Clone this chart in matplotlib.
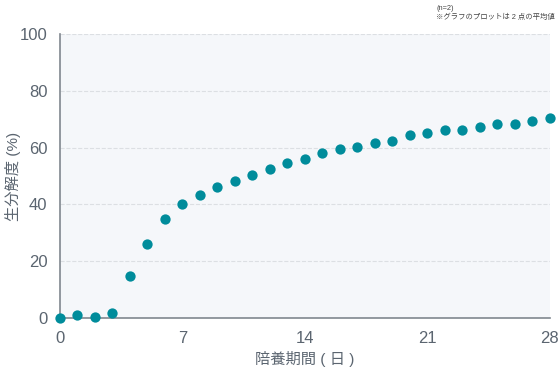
import matplotlib
matplotlib.use('Agg')
import matplotlib.pyplot as plt

plt.rcParams['font.family'] = ['Liberation Sans', 'Noto Sans CJK JP', 'DejaVu Sans']

days = list(range(29))
degradation = [0.0, 1.0, 0.2, 1.8, 14.9, 26.0, 35.0, 40.0, 43.3, 46.2, 48.2,
               50.4, 52.3, 54.5, 56.0, 58.2, 59.4, 60.1, 61.5, 62.2, 64.3,
               65.1, 66.3, 66.3, 67.1, 68.4, 68.4, 69.3, 70.5]
xticks = [0, 7, 14, 21, 28]
yticks = [0, 20, 40, 60, 80, 100]

text_color = '#5b6570'
dot_color = '#008c9b'

fig = plt.figure(figsize=(5.58, 3.72), dpi=100)
ax = fig.add_axes([0.1075, 0.145, 0.878, 0.764])
ax.set_facecolor('#f5f7fa')

ax.scatter(days, degradation, s=55, color=dot_color, zorder=3, clip_on=False,
           linewidths=0)

ax.set_xlim(0, 28)
ax.set_ylim(0, 100)
ax.set_xticks(xticks)
ax.set_yticks(yticks)
ax.tick_params(length=0, labelsize=12, colors=text_color, pad=9)
ax.yaxis.grid(True, linestyle='--', color='#dcdfe3', linewidth=0.8)
ax.set_axisbelow(True)

for s in ['top', 'right']:
    ax.spines[s].set_visible(False)
for s in ['left', 'bottom']:
    ax.spines[s].set_color('#80878f')
    ax.spines[s].set_linewidth(1.2)

ax.set_xlabel('陪養期間 ( 日 )', fontsize=11, color=text_color, labelpad=4)
ax.set_ylabel('生分解度 (%)', fontsize=11, color=text_color)
ax.yaxis.set_label_coords(-0.08, 0.5)

fig.text(0.782, 0.972, '(n=2)', fontsize=5.3, color='#444444')
fig.text(0.782, 0.948, '※グラフのプロットは 2 点の平均値', fontsize=5.3, color='#444444')

fig.savefig('out.png', dpi=100)
